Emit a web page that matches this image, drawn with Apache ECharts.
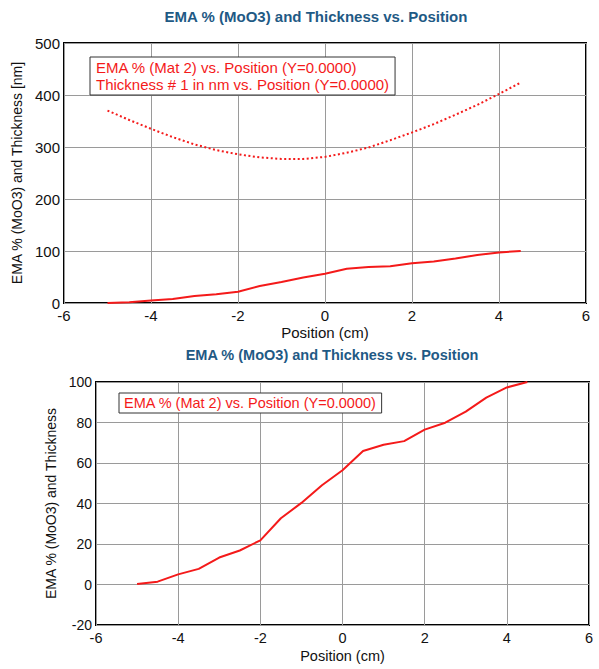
<!DOCTYPE html>
<html>
<head>
<meta charset="utf-8">
<script src="https://cdn.jsdelivr.net/npm/echarts@6/dist/echarts.min.js"></script>
<style>
  html, body { margin: 0; padding: 0; background: #fff; }
  #chart { width: 599px; height: 669px; }
</style>
</head>
<body>
<div id="chart"></div>
<script>
// Scan positions (cm)
const positions = [-5, -4.5, -4, -3.5, -3, -2.5, -2, -1.5, -1, -0.5,
                   0, 0.5, 1, 1.5, 2, 2.5, 3, 3.5, 4, 4.5];
// EMA % of material 2 (MoO3) at each position
const emaPercent = [0.2, 1.4, 5.0, 7.7, 13.3, 16.8, 21.8, 32.7, 40.3, 49.0,
                    56.4, 65.9, 69.0, 70.8, 76.5, 79.9, 85.4, 92.3, 97.3, 100];
// Layer #1 thickness in nm at each position
const thicknessNm = [370, 352, 335, 319, 305, 294, 286, 280, 277, 277,
                     281, 289, 299, 313, 328, 344, 362, 381, 402, 424];

const xTicks = [-6, 6, 2];          // min, max, step
const topYTicks = [0, 500, 100];
const bottomYTicks = [-20, 100, 20];

const chartTitle = 'EMA % (MoO3) and Thickness vs. Position';
const emaName = 'EMA % (Mat 2) vs. Position (Y=0.0000)';
const thickName = 'Thickness # 1 in nm vs. Position (Y=0.0000)';

const FONT = "'Liberation Sans', Arial, sans-serif";
const RED = '#f41a1a';
const TITLE_BLUE = '#1f5a85';

const pairs = (xs, ys) => xs.map((x, i) => [x, ys[i]]);

function xAxisCfg(gridIndex, fontSize, nameGap) {
  return {
    type: 'value', gridIndex,
    min: xTicks[0], max: xTicks[1], interval: xTicks[2],
    name: 'Position (cm)', nameLocation: 'middle', nameGap,
    nameTextStyle: { fontFamily: FONT, fontSize, color: '#111' },
    axisLine: { show: false }, axisTick: { show: false },
    axisLabel: { fontFamily: FONT, fontSize, color: '#111', margin: 5 },
    splitLine: { show: true, lineStyle: { color: '#9a9a9a', width: 1 } }
  };
}
function yAxisCfg(gridIndex, ticks, name, fontSize, nameFontSize, nameGap) {
  return {
    type: 'value', gridIndex,
    min: ticks[0], max: ticks[1], interval: ticks[2],
    name, nameLocation: 'middle', nameGap, nameRotate: 90,
    nameTextStyle: { fontFamily: FONT, fontSize: nameFontSize, color: '#111' },
    axisLine: { show: false }, axisTick: { show: false },
    axisLabel: { fontFamily: FONT, fontSize, color: '#111', margin: 4 },
    splitLine: { show: true, lineStyle: { color: '#9a9a9a', width: 1 } }
  };
}

const chart = echarts.init(document.getElementById('chart'), null, { renderer: 'svg' });
chart.setOption({
  animation: false,
  backgroundColor: '#fff',
  graphic: [
    { type: 'text', x: 316, y: 16, style: {
        text: chartTitle, align: 'center', verticalAlign: 'middle',
        font: 'bold 15px ' + FONT, fill: TITLE_BLUE } },
    { type: 'text', x: 332, y: 355, style: {
        text: chartTitle, align: 'center', verticalAlign: 'middle',
        font: 'bold 14.5px ' + FONT, fill: TITLE_BLUE } }
  ],
  grid: [
    { left: 64, top: 43, width: 522, height: 260, show: true,
      borderColor: '#000', borderWidth: 2, backgroundColor: 'transparent' },
    { left: 96, top: 382, width: 493, height: 243, show: true,
      borderColor: '#000', borderWidth: 2, backgroundColor: 'transparent' }
  ],
  legend: [
    { data: [emaName, thickName], orient: 'vertical', left: 90, top: 57,
      icon: 'none', itemWidth: 0, itemHeight: 17, itemGap: 0,
      padding: [2, 6, 2, 1], selectedMode: false,
      backgroundColor: '#fff', borderColor: '#333', borderWidth: 1,
      textStyle: { fontFamily: FONT, fontSize: 15, color: RED, lineHeight: 17 } },
    { data: [emaName], orient: 'vertical', left: 119, top: 393,
      icon: 'none', itemWidth: 0, itemHeight: 16, itemGap: 0,
      padding: [2, 5, 2, 0], selectedMode: false,
      backgroundColor: '#fff', borderColor: '#333', borderWidth: 1,
      textStyle: { fontFamily: FONT, fontSize: 14.5, color: RED, lineHeight: 16 } }
  ],
  xAxis: [ xAxisCfg(0, 15, 22), xAxisCfg(1, 14.5, 23) ],
  yAxis: [
    yAxisCfg(0, topYTicks, 'EMA % (MoO3) and Thickness [nm]', 15, 14, 33),
    yAxisCfg(1, bottomYTicks, 'EMA % (MoO3) and Thickness', 14, 14, 31)
  ],
  series: [
    { name: emaName, type: 'line', xAxisIndex: 0, yAxisIndex: 0,
      data: pairs(positions, emaPercent), showSymbol: false, symbol: 'none',
      lineStyle: { color: RED, width: 2 }, itemStyle: { color: RED } },
    { name: thickName, type: 'line', xAxisIndex: 0, yAxisIndex: 0,
      data: pairs(positions, thicknessNm), showSymbol: false, symbol: 'none',
      lineStyle: { color: RED, width: 2, type: [2, 2.5] }, itemStyle: { color: RED } },
    { name: emaName, type: 'line', xAxisIndex: 1, yAxisIndex: 1,
      data: pairs(positions, emaPercent), showSymbol: false, symbol: 'none',
      lineStyle: { color: RED, width: 2 }, itemStyle: { color: RED } }
  ]
});
</script>
</body>
</html>
